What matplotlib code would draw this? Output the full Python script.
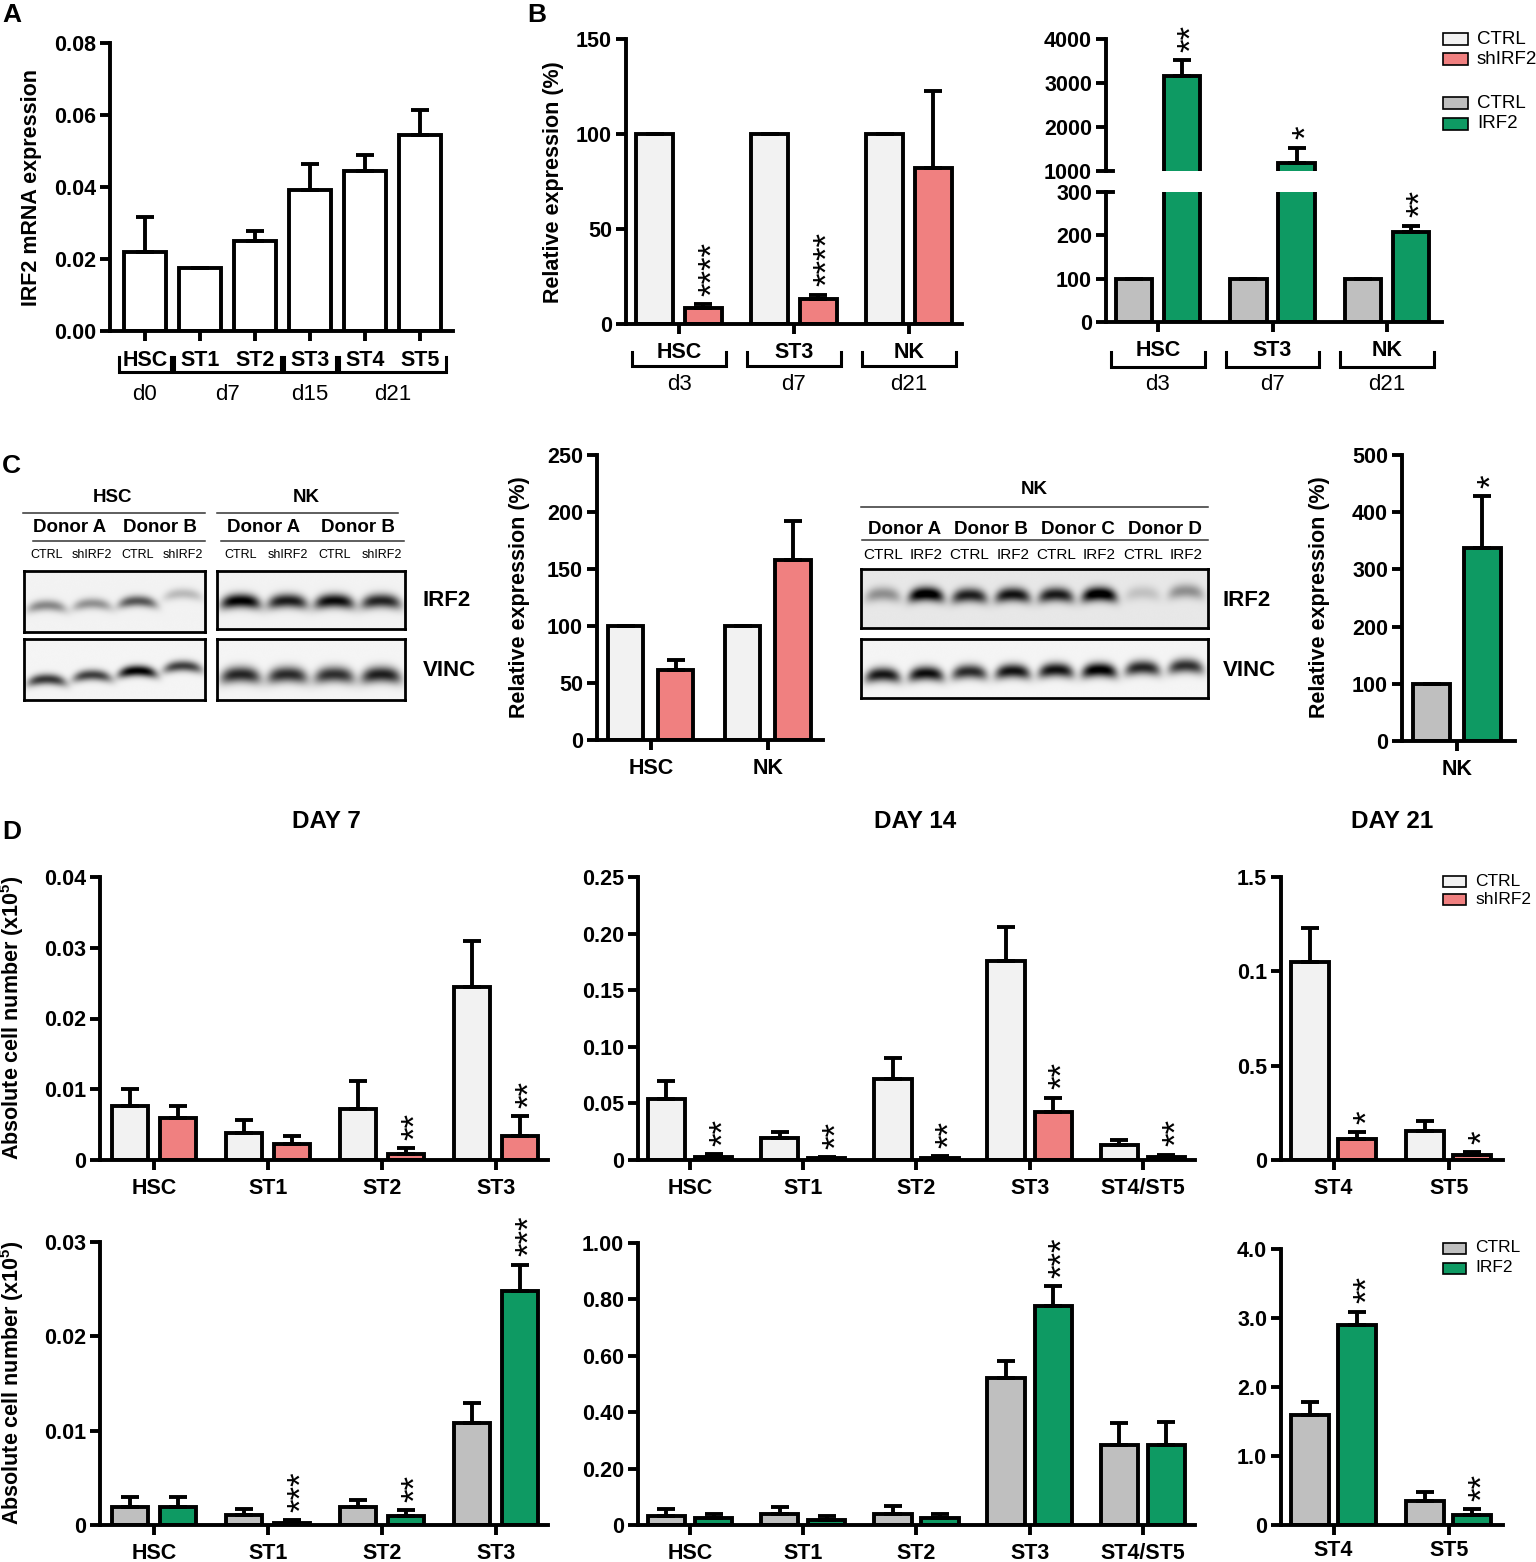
import numpy as np
import matplotlib
matplotlib.use('Agg')
import matplotlib.pyplot as plt
import matplotlib.transforms as mtransforms
from matplotlib.lines import Line2D
from matplotlib.patches import Rectangle

plt.rcParams['font.family'] = ['Liberation Sans', 'DejaVu Sans']
plt.rcParams['font.weight'] = 'bold'
plt.rcParams['axes.labelweight'] = 'bold'
plt.rcParams['mathtext.fontset'] = 'custom'
plt.rcParams['mathtext.rm'] = 'Liberation Sans'
plt.rcParams['mathtext.bf'] = 'Liberation Sans:bold'

W, H = 1536, 1562
LW = 2.8
CAP = 6.5
TFS = 15.5
C_WHITE = '#F2F2F2'
C_PINK = '#F08080'
C_GREY = '#BFBFBF'
C_GREEN = '#0E9A63'

# ---------------- data ----------------
# A: IRF2 mRNA across stages
a_cats = ['HSC', 'ST1', 'ST2', 'ST3', 'ST4', 'ST5']
a_vals = [0.0220, 0.0175, 0.0250, 0.0393, 0.0445, 0.0545]
a_errs = [0.0097, 0.0, 0.0027, 0.0072, 0.0045, 0.0070]
a_days = ['d0', 'd7', 'd15', 'd21']
a_groups = [(0, 0), (1, 2), (3, 3), (4, 5)]

# B: knockdown / overexpression qPCR
b_cats = ['HSC', 'ST3', 'NK']
b_days = ['d3', 'd7', 'd21']
b_ctrl = [100, 100, 100]
b_sh = [8.3, 13.3, 82.0]
b_sh_err = [2.3, 2.2, 40.5]
b_sh_stars = ['****', '****', '']
b_irf2 = [3170, 1190, 207]
b_irf2_err = [350, 340, 15]
b_irf2_stars = ['**', '*', '**']

# C: western blot band intensities (0 = none, 1 = saturated)
c_hsc_lanes = ['CTRL', 'shIRF2', 'CTRL', 'shIRF2']
c_hsc_irf2 = [0.42, 0.38, 0.62, 0.22]
c_hsc_irf2_y = [0.57, 0.54, 0.50, 0.38]
c_hsc_vinc = [0.75, 0.72, 0.98, 0.72]
c_hsc_vinc_y = [0.66, 0.59, 0.52, 0.44]
c_nk_irf2 = [0.97, 0.85, 0.92, 0.82]
c_nk_vinc = [0.82, 0.80, 0.78, 0.85]
c_nk2_lanes = ['CTRL', 'IRF2'] * 4
c_nk2_irf2 = [0.35, 1.0, 0.8, 0.85, 0.82, 1.0, 0.15, 0.35]
c_nk2_irf2_y = [0.42, 0.42, 0.44, 0.43, 0.43, 0.42, 0.40, 0.37]
c_nk2_vinc = [0.88, 0.92, 0.8, 0.9, 0.9, 1.0, 0.82, 0.78]
c_nk2_vinc_y = [0.60, 0.58, 0.55, 0.54, 0.52, 0.52, 0.48, 0.45]
c_donors2 = ['Donor A', 'Donor B']
c_donors4 = ['Donor A', 'Donor B', 'Donor C', 'Donor D']

c_sh_cats = ['HSC', 'NK']
c_sh_ctrl = [100, 100]
c_sh = [61, 158]
c_sh_err = [9, 34]
c_oe_cats = ['NK']
c_oe_ctrl = [100]
c_oe = [338]
c_oe_err = [90]
c_oe_stars = ['*']

# D: absolute cell numbers
d7_cats = ['HSC', 'ST1', 'ST2', 'ST3']
d14_cats = ['HSC', 'ST1', 'ST2', 'ST3', 'ST4/ST5']
d21_cats = ['ST4', 'ST5']

d7_ctrl = [0.0076, 0.0038, 0.0072, 0.0244]
d7_ctrl_err = [0.0025, 0.0019, 0.0039, 0.0065]
d7_sh = [0.0059, 0.0022, 0.0009, 0.0034]
d7_sh_err = [0.0017, 0.0012, 0.0008, 0.0028]
d7_sh_stars = ['', '', '**', '**']

d14_ctrl = [0.0535, 0.019, 0.0712, 0.1756, 0.0129]
d14_ctrl_err = [0.0162, 0.006, 0.0185, 0.0303, 0.0045]
d14_sh = [0.0030, 0.0015, 0.0020, 0.0424, 0.0030]
d14_sh_err = [0.0020, 0.0010, 0.0015, 0.0126, 0.0018]
d14_sh_stars = ['**', '**', '**', '**', '**']

d21_ctrl = [1.05, 0.156]
d21_ctrl_err = [0.182, 0.052]
d21_sh = [0.109, 0.024]
d21_sh_err = [0.040, 0.019]
d21_sh_stars = ['*', '*']

d7_gctrl = [0.0019, 0.0011, 0.0019, 0.0108]
d7_gctrl_err = [0.0011, 0.0006, 0.0008, 0.0021]
d7_irf2 = [0.0019, 0.0002, 0.0010, 0.0248]
d7_irf2_err = [0.0011, 0.0003, 0.0006, 0.0028]
d7_irf2_stars = ['', '***', '**', '***']

d14_gctrl = [0.033, 0.038, 0.038, 0.521, 0.282]
d14_gctrl_err = [0.024, 0.027, 0.029, 0.061, 0.081]
d14_irf2 = [0.024, 0.018, 0.024, 0.778, 0.284]
d14_irf2_err = [0.015, 0.014, 0.015, 0.068, 0.083]
d14_irf2_stars = ['', '', '', '***', '']

d21_gctrl = [1.595, 0.354]
d21_gctrl_err = [0.185, 0.128]
d21_irf2 = [2.894, 0.148]
d21_irf2_err = [0.196, 0.077]
d21_irf2_stars = ['**', '**']

# ---------------- helpers ----------------
fig = plt.figure(figsize=(W / 100, H / 100), dpi=100)
ov = fig.add_axes([0, 0, 1, 1])
ov.set_xlim(0, W)
ov.set_ylim(H, 0)
ov.axis('off')
ov.set_zorder(10)


def add_px(l, t, r, b):
    return fig.add_axes([l / W, 1 - b / H, (r - l) / W, (b - t) / H])


def style(ax, xlim, ylim, yticks, ylabels, xlabels):
    ax.set_xlim(xlim)
    ax.set_ylim(ylim)
    ax.set_yticks(yticks)
    ax.set_yticklabels(ylabels)
    ax.set_xticks(range(len(xlabels)))
    ax.set_xticklabels(xlabels)
    for s in ['top', 'right']:
        ax.spines[s].set_visible(False)
    for s in ['left', 'bottom']:
        ax.spines[s].set_linewidth(LW)
    ax.tick_params(direction='out', length=7, width=LW, labelsize=TFS, pad=3)
    ax.tick_params(axis='x', pad=6)
    ax.patch.set_alpha(0)


def bars(ax, xs, vals, errs, color, width):
    ax.bar(xs, vals, width, color=color, edgecolor='black', linewidth=LW, zorder=2)
    ax.errorbar(xs, vals, yerr=[np.zeros(len(vals)), errs], fmt='none', ecolor='black',
                elinewidth=LW, capsize=CAP, capthick=LW, zorder=3)


def pair(ax, a, a_err, b, b_err, ca, cb, off=0.21, width=0.32):
    x = np.arange(len(a))
    bars(ax, x - off, a, a_err, ca, width)
    bars(ax, x + off, b, b_err, cb, width)


def stars(ax, xs, tops, labels, dy=6):
    tr = mtransforms.offset_copy(ax.transData, fig=fig, x=7, y=dy, units='points')
    for x, t, s in zip(xs, tops, labels):
        if s:
            ax.text(x, t, s, transform=tr, rotation=90, ha='center', va='bottom',
                    fontsize=25, fontweight='normal', clip_on=False)


def brackets(ax, groups, names, y_line, y_tick, y_text, half=0.42):
    tr = mtransforms.blended_transform_factory(ax.transData, ov.transData)
    for (i0, i1), name in zip(groups, names):
        x0, x1 = i0 - half, i1 + half
        ov.add_line(Line2D([x0, x0, x1, x1], [y_tick, y_line, y_line, y_tick], transform=tr,
                           color='black', lw=2.2, solid_joinstyle='miter'))
        ov.text((i0 + i1) / 2, y_text, name, transform=tr, ha='center', va='center',
                fontsize=16, fontweight='normal')


def legend(x, y, labels, colors, gap=20, fs=13, bw=25, bh=12):
    for k, (lab, col) in enumerate(zip(labels, colors)):
        yy = y + k * gap
        ov.add_patch(Rectangle((x, yy - bh / 2), bw, bh, facecolor=col, edgecolor='black', lw=1.2))
        ov.text(x + bw + 9, yy, lab, va='center', ha='left', fontsize=fs, fontweight='normal')


def ylab(x, y, text, fs=15.5):
    ov.text(x, y, text, rotation=90, ha='center', va='center', fontsize=fs)


def blot(box, lanes, ys, bg, hh, hw):
    ax = add_px(*box)
    n = len(lanes)
    X, Y = np.meshgrid(np.linspace(0, n, 60 * n), np.linspace(0, 1, 120))
    img = np.full(X.shape, bg)
    for i, v in enumerate(lanes):
        cy = ys[i] + 0.06 * ((X - i - 0.5) / hw) ** 2
        img -= v * np.exp(-np.abs((X - i - 0.5) / hw) ** 4) * np.exp(-((Y - cy) / hh) ** 2)
    ax.imshow(np.clip(img, 0, 1), cmap='gray', vmin=0, vmax=1, extent=[0, n, 1, 0],
              aspect='auto', interpolation='bicubic')
    ax.set_xticks([])
    ax.set_yticks([])
    for s in ax.spines.values():
        s.set_linewidth(2)


def lane_text(box, lane_names, donors, lane_y, donor_y, lane_fs):
    l, r = box[0], box[2]
    n = len(lane_names)
    cx = [l + (i + 0.5) * (r - l) / n for i in range(n)]
    for x, name in zip(cx, lane_names):
        ov.text(x, lane_y, name, ha='center', va='center', fontsize=lane_fs, fontweight='normal')
    for k, d in enumerate(donors):
        ov.text((cx[2 * k] + cx[2 * k + 1]) / 2, donor_y, d, ha='center', va='center', fontsize=13.5)


# ---------------- panel A ----------------
axA = add_px(110, 43, 453, 331)
xa = np.arange(len(a_cats))
bars(axA, xa, a_vals, a_errs, 'white', 0.78)
style(axA, (-0.636, 5.6), (0, 0.08), [0, 0.02, 0.04, 0.06, 0.08],
      ['0.00', '0.02', '0.04', '0.06', '0.08'], a_cats)
axA.tick_params(axis='x', pad=7)
brackets(axA, a_groups, a_days, 372, 357, 395, half=0.47)
ylab(32, 187, 'IRF2 mRNA expression')

# ---------------- panel B left ----------------
axB = add_px(626, 39, 962, 324)
pair(axB, b_ctrl, [0, 0, 0], b_sh, b_sh_err, C_WHITE, C_PINK)
style(axB, (-0.461, 2.461), (0, 150), [0, 50, 100, 150], ['0', '50', '100', '150'], b_cats)
stars(axB, np.arange(3) + 0.21, np.add(b_sh, b_sh_err), b_sh_stars)
brackets(axB, [(0, 0), (1, 1), (2, 2)], b_days, 366, 352, 385, half=0.41)
ylab(553, 182, 'Relative expression (%)')

# ---------------- panel B right (broken axis) ----------------
axBt = add_px(1106, 39, 1442, 171)
axBb = add_px(1106, 192, 1442, 322)
for ax in (axBt, axBb):
    pair(ax, b_ctrl, [0, 0, 0], b_irf2, b_irf2_err, C_GREY, C_GREEN)
style(axBt, (-0.454, 2.48), (1000, 4000), [1000, 2000, 3000, 4000],
      ['1000', '2000', '3000', '4000'], b_cats)
axBt.spines['bottom'].set_visible(False)
axBt.tick_params(axis='x', bottom=False, labelbottom=False)
style(axBb, (-0.454, 2.48), (0, 300), [0, 100, 200, 300], ['0', '100', '200', '300'], b_cats)
axBt.plot([-0.454, -0.39], [1000, 1000], color='black', lw=LW, clip_on=False)
axBb.plot([-0.454, -0.39], [300, 300], color='black', lw=LW, clip_on=False)
tops_b = np.add(b_irf2, b_irf2_err)
stars(axBt, np.arange(2) + 0.21, tops_b[:2], b_irf2_stars[:2])
stars(axBb, [2.21], tops_b[2:], b_irf2_stars[2:])
brackets(axBb, [(0, 0), (1, 1), (2, 2)], b_days, 367, 352, 385, half=0.41)
legend(1443, 39, ['CTRL', 'shIRF2'], [C_WHITE, C_PINK], fs=13.5)
legend(1443, 103, ['CTRL', 'IRF2'], [C_GREY, C_GREEN], gap=21, fs=13.5)

# ---------------- panel C blots ----------------
hsc_i = (24, 571, 205, 632)
hsc_v = (24, 639, 205, 700)
nk_i = (217, 571, 405, 629)
nk_v = (217, 639, 405, 700)
nk2_i = (861, 569, 1208, 628)
nk2_v = (861, 639, 1208, 698)
blot(hsc_i, c_hsc_irf2, c_hsc_irf2_y, 0.95, 0.09, 0.42)
blot(hsc_v, c_hsc_vinc, c_hsc_vinc_y, 0.96, 0.09, 0.42)
blot(nk_i, c_nk_irf2, [0.52] * 4, 0.95, 0.12, 0.42)
blot(nk_v, c_nk_vinc, [0.58] * 4, 0.96, 0.13, 0.42)
blot(nk2_i, c_nk2_irf2, c_nk2_irf2_y, 0.91, 0.12, 0.40)
blot(nk2_v, c_nk2_vinc, c_nk2_vinc_y, 0.96, 0.12, 0.40)

ov.text(113, 497, 'HSC', ha='center', va='center', fontsize=13.5)
ov.text(306, 497, 'NK', ha='center', va='center', fontsize=13.5)
ov.text(1034, 490, 'NK', ha='center', va='center', fontsize=13.5)
ov.plot([23, 205], [513, 513], color='#333333', lw=1.1)
ov.plot([33, 205], [541, 541], color='#333333', lw=1.1)
ov.plot([217, 398], [513, 513], color='#333333', lw=1.1)
ov.plot([221, 404], [541, 541], color='#333333', lw=1.1)
ov.plot([861, 1208], [507, 507], color='#333333', lw=1.1)
ov.plot([862, 1208], [540, 540], color='#333333', lw=1.1)
lane_text(hsc_i, c_hsc_lanes, c_donors2, 555, 528, 9)
lane_text(nk_i, c_hsc_lanes, c_donors2, 555, 528, 9)
lane_text(nk2_i, c_nk2_lanes, c_donors4, 555, 529, 11)
for x in (423, 1223):
    ov.text(x, 600, 'IRF2', ha='left', va='center', fontsize=16)
    ov.text(x, 670, 'VINC', ha='left', va='center', fontsize=16)

# ---------------- panel C bar charts ----------------
axC1 = add_px(597, 455, 823, 740)
pair(axC1, c_sh_ctrl, [0, 0], c_sh, c_sh_err, C_WHITE, C_PINK, off=0.214, width=0.3)
style(axC1, (-0.46, 1.47), (0, 250), [0, 50, 100, 150, 200, 250],
      ['0', '50', '100', '150', '200', '250'], c_sh_cats)
ylab(519, 597, 'Relative expression (%)')

axC2 = add_px(1402, 455, 1515, 741)
pair(axC2, c_oe_ctrl, [0], c_oe, c_oe_err, C_GREY, C_GREEN, off=0.22, width=0.32)
style(axC2, (-0.478, 0.504), (0, 500), [0, 100, 200, 300, 400, 500],
      ['0', '100', '200', '300', '400', '500'], c_oe_cats)
stars(axC2, [0.22], np.add(c_oe, c_oe_err), c_oe_stars)
ylab(1320, 597, 'Relative expression (%)')

# ---------------- panel D ----------------
ax = add_px(100, 877, 548, 1160)
pair(ax, d7_ctrl, d7_ctrl_err, d7_sh, d7_sh_err, C_WHITE, C_PINK, off=0.21, width=0.316)
style(ax, (-0.474, 3.456), (0, 0.04), [0, 0.01, 0.02, 0.03, 0.04],
      ['0', '0.01', '0.02', '0.03', '0.04'], d7_cats)
stars(ax, np.arange(4) + 0.21, np.add(d7_sh, d7_sh_err), d7_sh_stars)

ax = add_px(638, 877, 1195, 1160)
pair(ax, d14_ctrl, d14_ctrl_err, d14_sh, d14_sh_err, C_WHITE, C_PINK, off=0.208, width=0.33)
style(ax, (-0.459, 4.46), (0, 0.25), [0, 0.05, 0.10, 0.15, 0.20, 0.25],
      ['0', '0.05', '0.10', '0.15', '0.20', '0.25'], d14_cats)
stars(ax, np.arange(5) + 0.208, np.add(d14_sh, d14_sh_err), d14_sh_stars)

ax = add_px(1281, 877, 1503, 1160)
pair(ax, d21_ctrl, d21_ctrl_err, d21_sh, d21_sh_err, C_WHITE, C_PINK, off=0.206, width=0.33)
style(ax, (-0.457, 1.471), (0, 1.5), [0, 0.5, 1.0, 1.5], ['0', '0.5', '0.1', '1.5'], d21_cats)
stars(ax, np.arange(2) + 0.206, np.add(d21_sh, d21_sh_err), d21_sh_stars)
legend(1443, 881, ['CTRL', 'shIRF2'], [C_WHITE, C_PINK], gap=18, fs=12.5, bw=23, bh=11)

ax = add_px(100, 1242, 548, 1525)
pair(ax, d7_gctrl, d7_gctrl_err, d7_irf2, d7_irf2_err, C_GREY, C_GREEN, off=0.21, width=0.316)
style(ax, (-0.474, 3.456), (0, 0.03), [0, 0.01, 0.02, 0.03],
      ['0', '0.01', '0.02', '0.03'], d7_cats)
stars(ax, np.arange(4) + 0.21, np.add(d7_irf2, d7_irf2_err), d7_irf2_stars)

ax = add_px(638, 1243, 1195, 1525)
pair(ax, d14_gctrl, d14_gctrl_err, d14_irf2, d14_irf2_err, C_GREY, C_GREEN, off=0.208, width=0.33)
style(ax, (-0.459, 4.46), (0, 1.0), [0, 0.2, 0.4, 0.6, 0.8, 1.0],
      ['0', '0.20', '0.40', '0.60', '0.80', '1.00'], d14_cats)
stars(ax, np.arange(5) + 0.208, np.add(d14_irf2, d14_irf2_err), d14_irf2_stars)

ax = add_px(1281, 1249, 1503, 1525)
pair(ax, d21_gctrl, d21_gctrl_err, d21_irf2, d21_irf2_err, C_GREY, C_GREEN, off=0.206, width=0.33)
style(ax, (-0.457, 1.471), (0, 4.0), [0, 1, 2, 3, 4], ['0', '1.0', '2.0', '3.0', '4.0'], d21_cats)
ax.tick_params(axis='x', pad=4)
stars(ax, np.arange(2) + 0.206, np.add(d21_irf2, d21_irf2_err), d21_irf2_stars)
legend(1443, 1248, ['CTRL', 'IRF2'], [C_GREY, C_GREEN], gap=20, fs=12.5, bw=23, bh=11)

ylab(12, 1018, r'Absolute cell number (x10$^{\mathbf{5}}$)')
ylab(12, 1383, r'Absolute cell number (x10$^{\mathbf{5}}$)')

for x, t in [(326, 'DAY 7'), (915, 'DAY 14'), (1392, 'DAY 21')]:
    ov.text(x, 822, t, ha='center', va='center', fontsize=17.5)

# panel letters
for x, y, t in [(2, 15, 'A'), (527, 15, 'B'), (2, 466, 'C'), (2, 832, 'D')]:
    ov.text(x, y, t, ha='left', va='center', fontsize=19)

fig.savefig('out.png', dpi=100)
